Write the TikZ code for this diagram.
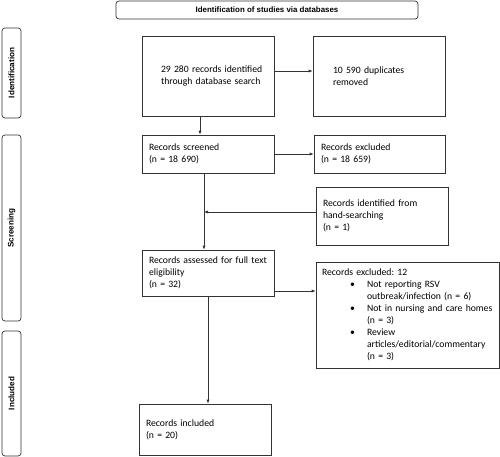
\documentclass[tikz,border=0pt]{standalone}
\usepackage{fontspec}
\setmainfont{Carlito}
\newfontfamily\headfont{Liberation Sans}
\usetikzlibrary{arrows.meta}
\frenchspacing
\newcommand{\oneline}[1]{\mbox{#1}}
\newcommand{\bulitem}{\makebox[45pt][r]{\textbullet\hspace{12pt}}}
\newcommand{\bulind}{\hspace*{45pt}}
\begin{document}
\begin{tikzpicture}[x=1pt,y=-1pt,
  box/.style={draw=black!80, line width=0.7pt, rectangle, inner xsep=7pt, inner ysep=0pt, align=left, font=\fontsize{9.7}{12}\selectfont},
  side/.style={draw=black!80, line width=0.7pt, rounded corners=3pt, rotate=90, minimum height=19pt, inner sep=0pt, font=\headfont\bfseries\fontsize{8.1}{9}\selectfont},
  arr/.style={-{Latex[length=4pt,width=3.2pt]}, line width=0.7pt, draw=black!80}]
\useasboundingbox (0,0) rectangle (500,457);
% title and phase labels
\node[draw=black!80, line width=0.7pt, rounded corners=3pt, minimum width=302pt, minimum height=18pt, inner sep=0pt, font=\headfont\bfseries\fontsize{7.9}{9}\selectfont] (title) at (267,10) {Identification of studies via databases};
\node[side, minimum width=90pt] (sid) at (11.5,73) {Identification};
\node[side, minimum width=186pt] (sscr) at (11.5,228) {Screening};
\node[side, minimum width=125pt] (sinc) at (11.5,393.5) {Included};
% boxes
\node[box, minimum width=132pt, minimum height=80pt, inner xsep=19pt, text width=94pt] (b1) at (208,76) {\oneline{29 280 records identified}\\\oneline{through database search}};
\node[box, minimum width=132pt, minimum height=80pt, inner xsep=20pt, text width=92pt] (b2) at (379,76) {\oneline{10 590 duplicates}\\removed};
\node[box, minimum width=132pt, minimum height=38pt, text width=118pt] (scr) at (208,154) {Records screened\\(n = 18 690)};
\node[box, minimum width=131pt, minimum height=38pt, text width=117pt] (exc) at (379.5,154) {Records excluded\\(n = 18 659)};
\node[box, minimum width=132pt, minimum height=58pt, text width=118pt] (hand) at (382,216) {\oneline{Records identified from}\\hand-searching\\(n = 1)};
\node[box, minimum width=132pt, minimum height=46pt, text width=118pt] (ass) at (208,273) {\oneline{Records assessed for full text}\\eligibility\\(n = 32)};
\node[box, minimum width=183pt, minimum height=106pt, inner xsep=6pt, text width=171pt] (ex2) at (407.5,315) {Records excluded: 12\\
\oneline{\bulitem Not reporting RSV}\\
\oneline{\bulind outbreak/infection (n = 6)}\\
\oneline{\bulitem Not in nursing and care homes}\\
\oneline{\bulind (n = 3)}\\
\oneline{\bulitem Review}\\
\oneline{\bulind articles/editorial/commentary}\\
\oneline{\bulind (n = 3)}};
\node[box, minimum width=132pt, minimum height=51pt, text width=118pt] (inc) at (205,429.5) {Records included\\(n = 20)};
% connectors
\coordinate (j) at (204,212);
\draw[arr] ([yshift=5pt]b1.east) -- ([yshift=5pt]b1.east -| b2.west);
\draw[arr] ([xshift=-8pt]b1.south) -- ([xshift=-8pt]b1.south |- scr.north);
\draw[arr] (scr.east) -- (scr.east -| exc.west);
\draw[arr] ([xshift=-4pt]scr.south) -- ([xshift=-4pt]scr.south |- ass.north);
\draw[arr] (hand.west |- j) -- (j);
\draw[arr] ([yshift=-18pt]ass.east) -- ([yshift=-18pt]ass.east -| ex2.west);
\draw[arr] (ass.south) -- (ass.south |- inc.north);
\end{tikzpicture}
\end{document}
